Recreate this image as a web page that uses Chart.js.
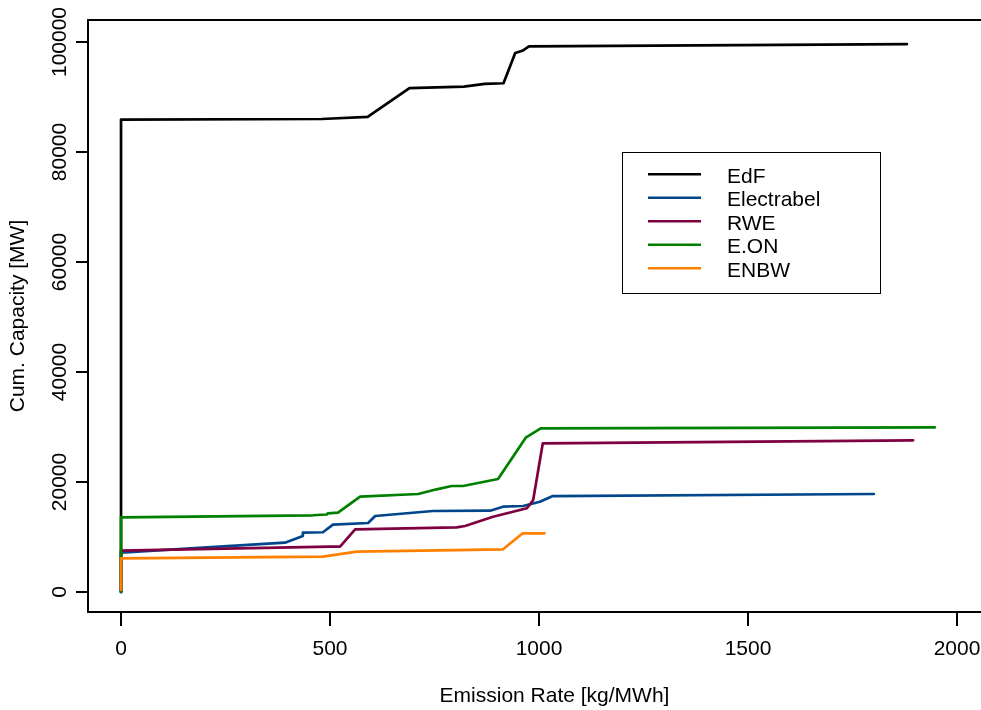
<!DOCTYPE html>
<html>
<head>
<meta charset="utf-8">
<script src="https://cdn.jsdelivr.net/npm/chart.js@4/dist/chart.umd.min.js"></script>
<style>
  html, body { margin: 0; padding: 0; background: #fff; overflow: hidden; }
  #wrap { width: 981px; height: 710px; overflow: hidden; position: relative; }
  canvas { display: block; }
</style>
</head>
<body>
<div id="wrap"><canvas id="c" width="1025" height="710"></canvas></div>
<script>
// ---- data ----
const seriesNames = ["EdF", "Electrabel", "RWE", "E.ON", "ENBW"];
const seriesColors = ["#000000", "#00468B", "#7F0040", "#007F00", "#FF8000"];

const edfX = [0, 0, 480, 590, 690, 820, 870, 915, 943, 960, 976, 1880];
const edfY = [0, 85900, 86000, 86400, 91600, 91900, 92400, 92500, 98000, 98400, 99200, 99600];

const electrabelX = [0, 0, 392, 416, 435, 435, 483, 507, 591, 608, 746, 883, 914, 962, 1002, 1033, 1801];
const electrabelY = [0, 7150, 8960, 9640, 10180, 10780, 10860, 12240, 12550, 13820, 14730, 14780, 15510, 15640, 16420, 17450, 17820];

const rweX = [0, 0, 500, 524, 560, 803, 823, 890, 971, 986, 1009, 1895];
const rweY = [0, 7510, 8240, 8240, 11400, 11760, 12000, 13690, 15220, 16730, 27040, 27580];

const eonX = [0, 0, 459, 492, 495, 519, 572, 711, 755, 791, 818, 902, 969, 1004, 1947];
const eonY = [0, 13580, 13950, 14090, 14310, 14420, 17330, 17820, 18670, 19270, 19270, 20550, 28130, 29760, 29950];

const enbwX = [0, 0, 483, 564, 914, 961, 1013];
const enbwY = [400, 6130, 6420, 7330, 7760, 10670, 10670];

const xTickValues = [0, 500, 1000, 1500, 2000];
const yTickValues = [0, 20000, 40000, 60000, 80000, 100000];

const xTitle = "Emission Rate [kg/MWh]";
const yTitle = "Cum. Capacity [MW]";

// ---- build ----
function pts(xs, ys) { return xs.map((x, i) => ({ x: x, y: ys[i] })); }
const allX = [edfX, electrabelX, rweX, eonX, enbwX];
const allY = [edfY, electrabelY, rweY, eonY, enbwY];

const FONT = "'Liberation Sans', Arial, Helvetica, sans-serif";

const datasets = seriesNames.map((name, i) => ({
  label: name,
  data: pts(allX[i], allY[i]),
  borderColor: seriesColors[i],
  backgroundColor: seriesColors[i],
  borderWidth: 2.7,
  pointRadius: 0,
  pointHoverRadius: 0,
  tension: 0,
  fill: false,
  borderCapStyle: 'round',
  borderJoinStyle: 'round',
  order: seriesNames.length - i
}));

const rStyle = {
  id: 'rStyle',
  afterDraw(chart) {
    const ctx = chart.ctx;
    const a = chart.chartArea;
    ctx.save();
    // top & right of the box
    ctx.strokeStyle = '#000';
    ctx.lineWidth = 2;
    ctx.beginPath();
    ctx.moveTo(a.left - 1, a.top);
    ctx.lineTo(a.right, a.top);
    ctx.lineTo(a.right, a.bottom);
    ctx.stroke();

    // y tick labels, rotated (R style)
    const ys = chart.scales.y;
    ctx.fillStyle = '#000';
    ctx.font = "21px " + FONT;
    ctx.textAlign = 'center';
    ctx.textBaseline = 'middle';
    yTickValues.forEach(v => {
      const py = ys.getPixelForValue(v);
      ctx.save();
      ctx.translate(60, py);
      ctx.rotate(-Math.PI / 2);
      ctx.fillText(String(v), 0, 0);
      ctx.restore();
    });

    // legend box
    const lx = 622.5, ly = 152.5, lw = 258, lh = 141;
    ctx.fillStyle = '#fff';
    ctx.fillRect(lx, ly, lw, lh);
    ctx.strokeStyle = '#000';
    ctx.lineWidth = 1;
    ctx.strokeRect(lx, ly, lw, lh);
    chart.data.datasets.forEach((ds, i) => {
      const y = 174.3 + i * 23.5;
      ctx.strokeStyle = ds.borderColor;
      ctx.lineWidth = 2.6;
      ctx.lineCap = 'butt';
      ctx.beginPath();
      ctx.moveTo(648, y);
      ctx.lineTo(701, y);
      ctx.stroke();
      ctx.fillStyle = '#000';
      ctx.textAlign = 'left';
      ctx.textBaseline = 'middle';
      ctx.font = "21px " + FONT;
      ctx.fillText(ds.label, 727, y + 2.5);
    });
    ctx.restore();
  }
};

new Chart(document.getElementById('c'), {
  type: 'line',
  data: { datasets: datasets },
  plugins: [rStyle],
  options: {
    responsive: false,
    animation: false,
    devicePixelRatio: 1,
    layout: { padding: { top: 20, right: 4, bottom: 0, left: 0 } },
    plugins: { legend: { display: false }, tooltip: { enabled: false } },
    scales: {
      x: {
        type: 'linear',
        min: -79,
        max: 2153,
        afterBuildTicks: s => { s.ticks = xTickValues.map(v => ({ value: v })); },
        afterFit: s => { s.height = 98; },
        grid: { display: true, drawOnChartArea: false, drawTicks: true, tickLength: 14, color: '#000', lineWidth: 2 },
        border: { display: true, color: '#000', width: 2 },
        ticks: { color: '#000', font: { family: FONT, size: 21 }, padding: 11, maxRotation: 0, minRotation: 0, autoSkip: false,
                 callback: v => String(v) },
        title: { display: true, text: xTitle, color: '#000', font: { family: FONT, size: 21 }, padding: { top: 0, bottom: 1.4 } }
      },
      y: {
        type: 'linear',
        min: -3636,
        max: 104000,
        afterBuildTicks: s => { s.ticks = yTickValues.map(v => ({ value: v })); },
        afterFit: s => { s.width = 88; },
        grid: { display: true, drawOnChartArea: false, drawTicks: true, tickLength: 12, color: '#000', lineWidth: 2 },
        border: { display: true, color: '#000', width: 2 },
        ticks: { display: false },
        title: { display: true, text: yTitle, color: '#000', font: { family: FONT, size: 21 }, padding: { top: 5.4, bottom: 0 } }
      }
    }
  }
});
</script>
</body>
</html>
